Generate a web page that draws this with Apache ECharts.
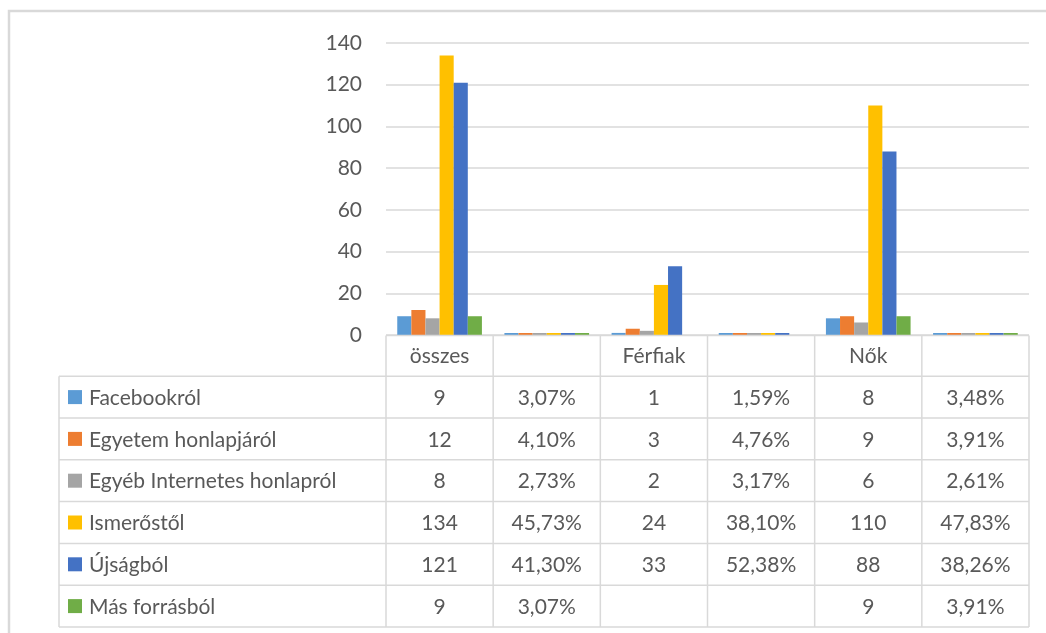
<!DOCTYPE html>
<html>
<head>
<meta charset="utf-8">
<script src="https://cdn.jsdelivr.net/npm/echarts@6/dist/echarts.min.js"></script>
<style>
  html, body { margin: 0; padding: 0; background: #ffffff; }
  #chart { width: 1046px; height: 633px; }
</style>
</head>
<body>
<div id="chart"></div>
<script>
// Columns: counts and share for all respondents, men and women
const categories = ['összes', '', 'Férfiak', '', 'Nők', ''];
const seriesNames = ['Facebookról', 'Egyetem honlapjáról', 'Egyéb Internetes honlapról', 'Ismerőstől', 'Újságból', 'Más forrásból'];
const facebook = [9, 0.0307, 1, 0.0159, 8, 0.0348];
const egyetem  = [12, 0.0410, 3, 0.0476, 9, 0.0391];
const egyeb    = [8, 0.0273, 2, 0.0317, 6, 0.0261];
const ismeros  = [134, 0.4573, 24, 0.3810, 110, 0.4783];
const ujsag    = [121, 0.4130, 33, 0.5238, 88, 0.3826];
const mas      = [9, 0.0307, null, null, 9, 0.0391];
const yTicks = { min: 0, max: 140, interval: 20 };

const seriesValues = [facebook, egyetem, egyeb, ismeros, ujsag, mas];
const colors = ['#5B9BD5', '#ED7D31', '#A5A5A5', '#FFC000', '#4472C4', '#70AD47'];
const textColor = '#595959';
const lineColor = '#D9D9D9';
const FONT = 'Lato, "Liberation Sans", sans-serif';
const FS = 21;

// even columns hold counts, odd columns hold shares
function formatCell(v, col) {
  if (v === null || v === undefined) return '';
  if (col % 2 === 1) return (v * 100).toFixed(2).replace('.', ',') + '%';
  return String(v);
}

const chart = echarts.init(document.getElementById('chart'), null, { renderer: 'canvas' });

const baseOption = {
  animation: false,
  backgroundColor: '#ffffff',
  color: colors,
  grid: { left: 386, right: 17, top: 43, bottom: 298, containLabel: false },
  xAxis: {
    type: 'category',
    data: categories,
    axisLine: { show: false },
    axisTick: { show: false },
    axisLabel: { show: false }
  },
  yAxis: {
    type: 'value',
    min: yTicks.min,
    max: yTicks.max,
    interval: yTicks.interval,
    axisLine: { show: false },
    axisTick: { show: false },
    axisLabel: { color: textColor, fontSize: FS, fontFamily: FONT, margin: 24 },
    splitLine: { lineStyle: { color: lineColor, width: 1.5 } }
  },
  series: seriesNames.map((name, i) => ({
    name: name,
    type: 'bar',
    data: seriesValues[i],
    barGap: '0%',
    barCategoryGap: '21%',
    barMinHeight: 2,
    itemStyle: { color: colors[i] }
  }))
};

chart.setOption(baseOption);

// Data table under the plot, aligned with the category bands
function buildTable() {
  const c0 = chart.convertToPixel({ xAxisIndex: 0 }, 0);
  const c1 = chart.convertToPixel({ xAxisIndex: 0 }, 1);
  const band = c1 - c0;
  const x0 = c0 - band / 2;
  const xEnd = x0 + band * categories.length;
  const top = chart.convertToPixel({ yAxisIndex: 0 }, 0) + 0.5;
  const rowH = 41.8;
  const headerBottom = top + 40.7;
  const tableLeft = 59;
  const bottom = headerBottom + rowH * seriesNames.length;
  const els = [];
  const line = (x1, y1, x2, y2) => els.push({
    type: 'line', silent: true, z: 10,
    shape: { x1, y1, x2, y2 },
    style: { stroke: lineColor, lineWidth: 1.5 }
  });
  const text = (t, x, y, align) => els.push({
    type: 'text', silent: true, z: 11,
    style: {
      text: t, x, y, fill: textColor, font: FS + 'px ' + FONT,
      align: align, verticalAlign: 'middle',
      textAlign: align, textVerticalAlign: 'middle'
    }
  });

  // outer chart frame
  els.push({
    type: 'rect', silent: true, z: 1,
    shape: { x: 9, y: 11, width: 1060, height: 640 },
    style: { fill: 'none', stroke: '#D9D9D9', lineWidth: 2.5 }
  });

  // header row
  line(x0, top, xEnd, top);
  categories.forEach((c, j) => text(c, x0 + band * (j + 0.5), top + 20.5, 'center'));
  // body rows
  for (let r = 0; r <= seriesNames.length; r++) {
    const y = headerBottom + rowH * r;
    line(tableLeft, y, xEnd, y);
  }
  line(tableLeft, headerBottom, tableLeft, bottom);
  for (let j = 0; j <= categories.length; j++) {
    const x = x0 + band * j;
    line(x, top, x, bottom);
  }
  seriesNames.forEach((name, r) => {
    const cy = headerBottom + rowH * (r + 0.5);
    els.push({
      type: 'rect', silent: true, z: 11,
      shape: { x: 68, y: cy - 7, width: 14, height: 14 },
      style: { fill: colors[r] }
    });
    text(name, 89, cy + 1, 'left');
    seriesValues[r].forEach((v, j) => {
      text(formatCell(v, j), x0 + band * (j + 0.5), cy + 1, 'center');
    });
  });
  chart.setOption({ graphic: { elements: els } });
}

buildTable();
</script>
</body>
</html>
